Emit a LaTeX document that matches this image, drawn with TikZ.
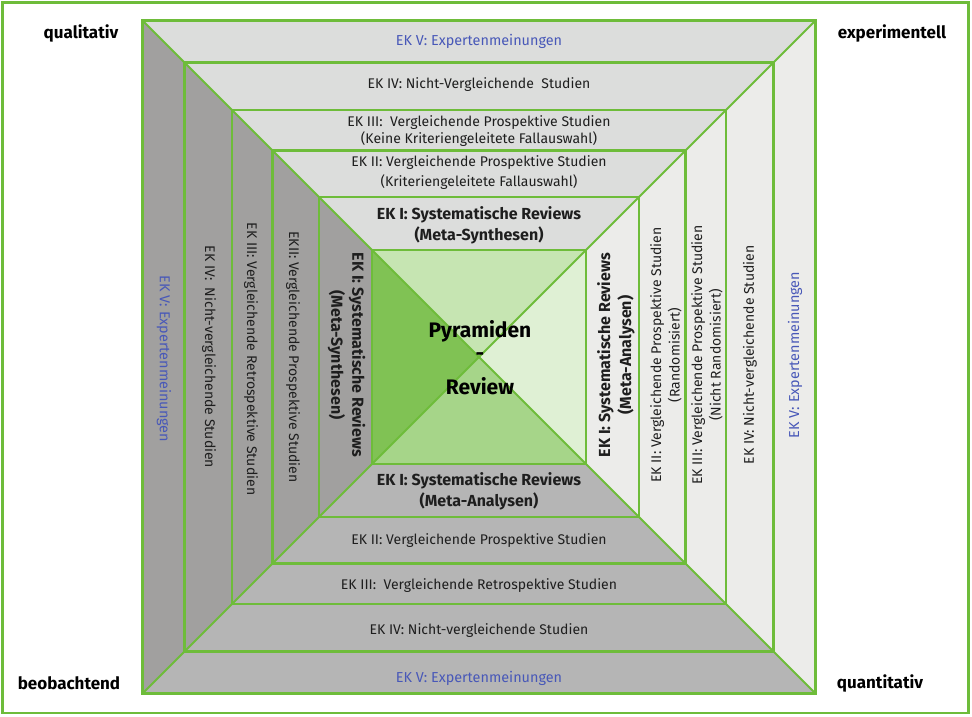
\documentclass[tikz,border=0pt]{standalone}
\usepackage{fontspec}
\setmainfont{Fira Sans}
\definecolor{gl}{RGB}{110,188,58}
\definecolor{gtop}{RGB}{220,221,220}
\definecolor{gleft}{RGB}{161,160,159}
\definecolor{gright}{RGB}{236,236,234}
\definecolor{gbot}{RGB}{181,181,181}
\definecolor{tleft}{RGB}{128,194,84}
\definecolor{ttop}{RGB}{198,229,178}
\definecolor{tright}{RGB}{223,240,212}
\definecolor{tbot}{RGB}{166,213,137}
\definecolor{bluet}{RGB}{72,88,184}
\definecolor{txt}{RGB}{30,30,30}
\tikzset{
  gline/.style={draw=gl, line width=2.6pt},
  dline/.style={draw=gl, line width=2pt},
  lab/.style={font=\fontsize{14}{17}\selectfont, text=txt, align=center, inner sep=0pt},
  blab/.style={font=\fontsize{16}{21}\selectfont\bfseries, text=txt, align=center, inner sep=0pt},
  blue/.style={font=\fontsize{14.4}{17}\selectfont, text=bluet, inner sep=0pt},
  corner/.style={font=\fontsize{17}{20}\selectfont\bfseries, text=black, inner sep=0pt},
  big/.style={font=\fontsize{21}{24}\selectfont\bfseries, text=black, inner sep=0pt}
}
\begin{document}
\begin{tikzpicture}[x=1pt,y=-1pt]
\useasboundingbox (0,0) rectangle (972,716);
\fill[white] (0,0) rectangle (972,716);
\draw[draw=gl, line width=2.5pt] (2.5,2.5) rectangle (968.5,713);
\begin{scope}[shift={(479,357)}]
  \foreach \a/\b in {336.5/294.5, 294.5/247, 247/206.5, 206.5/160, 160/107}{
    \fill[gtop] (-\a,-\a) -- (\a,-\a) -- (\b,-\b) -- (-\b,-\b) -- cycle;
    \fill[gbot] (-\a,\a) -- (\a,\a) -- (\b,\b) -- (-\b,\b) -- cycle;
    \fill[gleft] (-\a,-\a) -- (-\b,-\b) -- (-\b,\b) -- (-\a,\a) -- cycle;
    \fill[gright] (\a,-\a) -- (\b,-\b) -- (\b,\b) -- (\a,\a) -- cycle;
  }
  \fill[tleft] (-107,-107) -- (0,0) -- (-107,107) -- cycle;
  \fill[ttop] (-107,-107) -- (0,0) -- (107,-107) -- cycle;
  \fill[tright] (107,-107) -- (0,0) -- (107,107) -- cycle;
  \fill[tbot] (-107,107) -- (0,0) -- (107,107) -- cycle;
  \draw[dline] (-336.5,-336.5) -- (336.5,336.5);
  \draw[dline] (336.5,-336.5) -- (-336.5,336.5);
  \foreach \h in {336.5,294.5,247,206.5,160,107}{
    \draw[gline] (-\h,-\h) rectangle (\h,\h);
  }
\end{scope}
% corner labels
\node[corner] (q1) at (81,33) {qualitativ};
\node[corner] (ex) at (892,33) {experimentell};
\node[corner] (be) at (69,683) {beobachtend};
\node[corner] (q2) at (880,683) {quantitativ};
% top bands
\node[blue] (t1) at (479,41) {EK V: Expertenmeinungen};
\node[lab] (t2) at (479,85) {EK IV: Nicht-Vergleichende\ \ Studien};
\node[lab] (t3) at (479,131) {EK III:\ \ Vergleichende Prospektive Studien\\(Keine Kriteriengeleitete Fallauswahl)};
\node[lab, font=\fontsize{14}{20}\selectfont] (t4) at (479,173) {EK II: Vergleichende Prospektive Studien\\(Kriteriengeleitete Fallauswahl)};
\node[blab] (t5) at (479,225) {EK I: Systematische Reviews\\(Meta-Synthesen)};
% bottom bands
\node[blab] (b5) at (479,491) {EK I: Systematische Reviews\\(Meta-Analysen)};
\node[lab] (b4) at (479,541) {EK II: Vergleichende Prospektive Studien};
\node[lab] (b3) at (479,586) {EK III:\ \ Vergleichende Retrospektive Studien};
\node[lab] (b2) at (479,631) {EK IV: Nicht-vergleichende Studien};
\node[blue] (b1) at (479,678) {EK V: Expertenmeinungen};
% left bands
\node[blue, rotate=-90] (l1) at (164,359) {EK V: Expertenmeinungen};
\node[lab, rotate=-90] (l2) at (209,357) {EK IV:\ \ Nicht-vergleichende Studien};
\node[lab, rotate=-90] (l3) at (251,359) {EK III: Vergleichende Retrospektive Studien};
\node[lab, rotate=-90] (l4) at (293,357) {EKII: Vergleichende Prospektive Studien};
\node[blab, rotate=-90] (l5) at (346.5,355) {EK I: Systematische Reviews\\(Meta-Synthesen)};
% right bands
\node[blab, rotate=90] (r5) at (616,355) {EK I: Systematische Reviews\\(Meta-Analysen)};
\node[lab, rotate=90, font=\fontsize{14}{18.5}\selectfont] (r4) at (666,355) {EK II: Vergleichende Prospektive Studien\\(Randomisiert)};
\node[lab, rotate=90, font=\fontsize{14}{18.5}\selectfont] (r3) at (707,355) {EK III: Vergleichende Prospektive Studien\\(Nicht Randomisiert)};
\node[lab, rotate=90] (r2) at (750,355) {EK IV: Nicht-vergleichende Studien};
\node[blue, rotate=90] (r1) at (795,355) {EK V: Expertenmeinungen};
% center
\node[big] (c1) at (480,331) {Pyramiden};
\node[big] (c2) at (480,357) {-};
\node[big] (c3) at (480,386) {Review};
\end{tikzpicture}
\end{document}
